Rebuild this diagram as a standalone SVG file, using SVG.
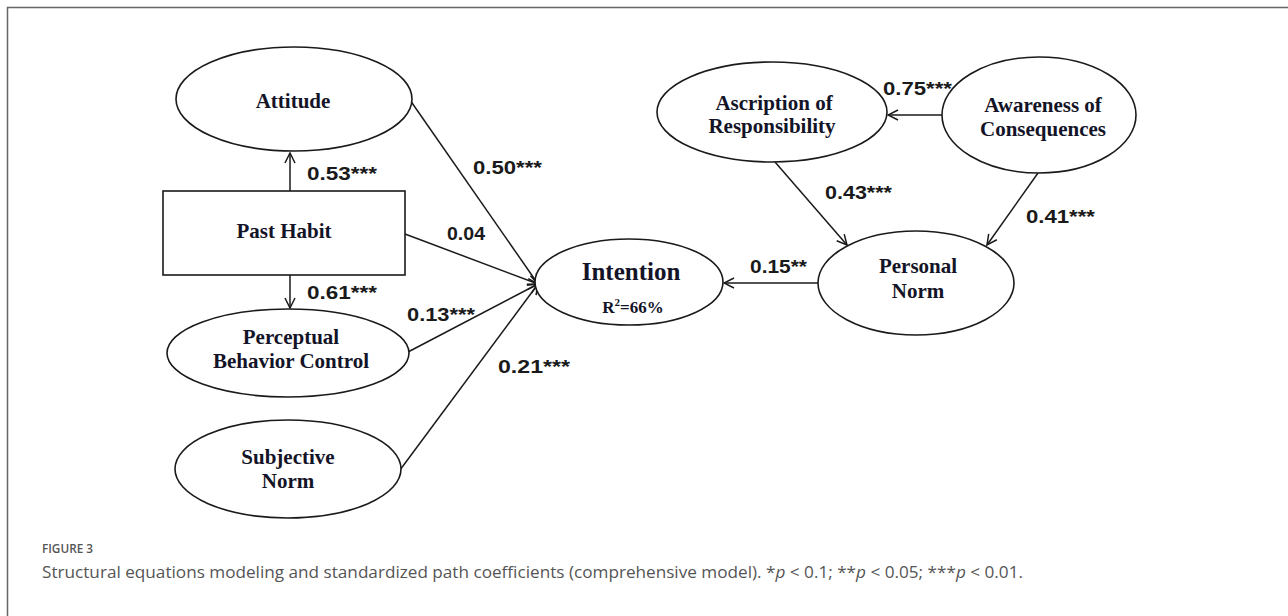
<svg xmlns="http://www.w3.org/2000/svg" width="1288" height="616" viewBox="0 0 1288 616">
<style>
.node{fill:#fff;stroke:#1a1a1a;stroke-width:1.6}
.nt{font-family:"Liberation Serif","Times New Roman",serif;font-weight:bold;font-size:21px;fill:#141428;text-anchor:middle}
.lbl{font-family:"Liberation Sans",Arial,sans-serif;font-weight:bold;font-size:18px;fill:#1a1a1a}
.edge{stroke:#1a1a1a;stroke-width:1.5;fill:none;marker-end:url(#arr)}
.cap{font-family:"Open Sans","Liberation Sans",sans-serif;fill:#555}
</style>
<defs>
<marker id="arr" viewBox="0 0 12 12" refX="11" refY="6" markerWidth="12" markerHeight="12" markerUnits="userSpaceOnUse" orient="auto">
<path d="M1,1 L11,6 L1,11" fill="none" stroke="#1a1a1a" stroke-width="1.5"/>
</marker>
</defs>
<rect width="1288" height="616" fill="#fff"/>
<path d="M7.5,616 V7.5 H1288" fill="none" stroke="#666" stroke-width="1.5"/>

<g id="connectors">
<line class="edge" x1="290" y1="191" x2="290" y2="153"/>
<line class="edge" x1="290" y1="275" x2="290" y2="308"/>
<line class="edge" x1="410" y1="100" x2="538" y2="284"/>
<line class="edge" x1="405" y1="234" x2="538" y2="284"/>
<line class="edge" x1="408" y1="352" x2="538" y2="284"/>
<line class="edge" x1="400" y1="470" x2="538" y2="284"/>
<line class="edge" x1="943" y1="115" x2="888" y2="115"/>
<line class="edge" x1="775" y1="162" x2="847" y2="245"/>
<line class="edge" x1="1038" y1="173" x2="987" y2="245"/>
<line class="edge" x1="818" y1="283" x2="724" y2="283"/>
<text class="lbl" x="307" y="180" textLength="70" lengthAdjust="spacingAndGlyphs">0.53***</text>
<text class="lbl" x="473" y="174" textLength="69" lengthAdjust="spacingAndGlyphs">0.50***</text>
<text class="lbl" x="447" y="240" textLength="38" lengthAdjust="spacingAndGlyphs">0.04</text>
<text class="lbl" x="307" y="299" textLength="70" lengthAdjust="spacingAndGlyphs">0.61***</text>
<text class="lbl" x="407" y="321" textLength="68" lengthAdjust="spacingAndGlyphs">0.13***</text>
<text class="lbl" x="498" y="373" textLength="72" lengthAdjust="spacingAndGlyphs">0.21***</text>
<text class="lbl" x="883" y="95" textLength="69" lengthAdjust="spacingAndGlyphs">0.75***</text>
<text class="lbl" x="825" y="199" textLength="67" lengthAdjust="spacingAndGlyphs">0.43***</text>
<text class="lbl" x="1026" y="223" textLength="69" lengthAdjust="spacingAndGlyphs">0.41***</text>
<text class="lbl" x="750" y="273" textLength="57" lengthAdjust="spacingAndGlyphs">0.15**</text>
</g>

<g id="attitude">
<ellipse class="node" cx="294" cy="99" rx="118" ry="52"/>
<text class="nt" x="293" y="108">Attitude</text>
</g>
<g id="past-habit">
<rect class="node" x="163" y="191" width="242" height="84"/>
<text class="nt" x="284" y="238">Past Habit</text>
</g>
<g id="pbc">
<ellipse class="node" cx="288" cy="353" rx="121" ry="44"/>
<text class="nt" x="291" y="344">Perceptual</text>
<text class="nt" x="291" y="368">Behavior Control</text>
</g>
<g id="subjective-norm">
<ellipse class="node" cx="288" cy="469" rx="113" ry="49"/>
<text class="nt" x="288" y="464">Subjective</text>
<text class="nt" x="288" y="488">Norm</text>
</g>
<g id="intention">
<ellipse class="node" cx="629" cy="282" rx="94" ry="43"/>
<text class="nt" x="631" y="280" style="font-size:25px">Intention</text>
<text class="nt" x="633" y="313" style="font-size:17px">R<tspan dy="-7" style="font-size:11px">2</tspan><tspan dy="7">=66%</tspan></text>
</g>
<g id="ascription">
<ellipse class="node" cx="772" cy="112" rx="115" ry="50"/>
<text class="nt" x="774" y="110">Ascription of</text>
<text class="nt" x="772" y="133">Responsibility</text>
</g>
<g id="awareness">
<ellipse class="node" cx="1039" cy="115" rx="97" ry="58"/>
<text class="nt" x="1043" y="112">Awareness of</text>
<text class="nt" x="1043" y="136">Consequences</text>
</g>
<g id="personal-norm">
<ellipse class="node" cx="916" cy="283" rx="98" ry="52"/>
<text class="nt" x="918" y="273">Personal</text>
<text class="nt" x="918" y="298">Norm</text>
</g>

<text class="cap" x="42" y="553" font-size="13" font-weight="600" textLength="51" lengthAdjust="spacingAndGlyphs">FIGURE 3</text>
<text class="cap" x="42" y="578" font-size="17" textLength="981" lengthAdjust="spacingAndGlyphs">Structural equations modeling and standardized path coefficients (comprehensive model). *<tspan font-style="italic">p</tspan> &lt; 0.1; **<tspan font-style="italic">p</tspan> &lt; 0.05; ***<tspan font-style="italic">p</tspan> &lt; 0.01.</text>
</svg>
